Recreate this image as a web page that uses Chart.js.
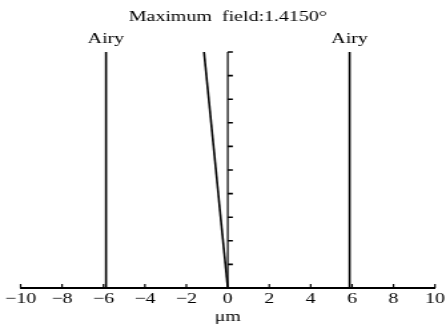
<!DOCTYPE html>
<html>
<head>
<meta charset="utf-8">
<script src="https://cdn.jsdelivr.net/npm/chart.js@4/dist/chart.umd.min.js"></script>
<style>
  html, body { margin: 0; padding: 0; background: #fff; overflow: hidden; }
  /* the reference type is wide, so the chart is drawn narrow and stretched sideways */
  #wrap { width: 335px; height: 324px; transform: scale(1.3313, 1); transform-origin: 0 0; }
  #c { display: block; }
</style>
</head>
<body>
<div id="wrap"><canvas id="c" width="335" height="324"></canvas></div>
<script>
// data
const chartTitle = 'Maximum  field:1.4150°';
const airyLabel = 'Airy';
const airyRadius = 5.88;          // μm, both sides
const fieldMax = 10;              // field axis, 10 divisions
const spotLine = [{ x: 0, y: 0 }, { x: -1.15, y: 10 }];
const xMin = -10, xMax = 10, xStep = 2;

const serif = "'Liberation Serif', 'DejaVu Serif', serif";
const ink = '#000';

// Airy labels, the field axis at x=0 with its ticks, and the x ticks pointing up
const extrasPlugin = {
    id: 'extras',
    afterDatasetsDraw(chart) {
        const ctx = chart.ctx;
        const xs = chart.scales.x, ys = chart.scales.y;
        const area = chart.chartArea;
        ctx.save();
        ctx.strokeStyle = ink;

        const x0 = xs.getPixelForValue(0);
        ctx.lineWidth = 1.2;
        ctx.beginPath();
        ctx.moveTo(x0, ys.getPixelForValue(0));
        ctx.lineTo(x0, ys.getPixelForValue(fieldMax));
        xs.ticks.forEach(t => {
            const x = xs.getPixelForValue(t.value);
            ctx.moveTo(x, area.bottom);
            ctx.lineTo(x, area.bottom - 4);
        });
        ctx.stroke();

        ctx.lineWidth = 1.6;
        ctx.beginPath();
        for (let v = 0; v <= fieldMax; v++) {
            const y = ys.getPixelForValue(v);
            ctx.moveTo(x0, y);
            ctx.lineTo(x0 + 3.8, y);
        }
        ctx.stroke();

        ctx.fillStyle = ink;
        ctx.font = '15px ' + serif;
        ctx.textAlign = 'center';
        ctx.textBaseline = 'middle';
        [-airyRadius, airyRadius].forEach(v => {
            ctx.fillText(airyLabel, xs.getPixelForValue(v), area.top - 13);
        });
        ctx.restore();
    }
};

const lineStyle = { showLine: true, borderColor: ink, borderWidth: 1.6, pointRadius: 0 };

new Chart(document.getElementById('c'), {
    type: 'scatter',
    data: {
        datasets: [
            { ...lineStyle, data: spotLine },
            { ...lineStyle, data: [{ x: -airyRadius, y: 0 }, { x: -airyRadius, y: fieldMax }] },
            { ...lineStyle, data: [{ x: airyRadius, y: 0 }, { x: airyRadius, y: fieldMax }] }
        ]
    },
    options: {
        responsive: false,
        animation: false,
        layout: { padding: { left: 15.5, right: 8.3, top: 0, bottom: 0 } },
        plugins: {
            legend: { display: false },
            tooltip: { enabled: false },
            title: {
                display: true,
                text: chartTitle,
                color: ink,
                font: { family: serif, size: 15, weight: 'normal' },
                padding: { top: 8, bottom: 26 }
            }
        },
        scales: {
            x: {
                type: 'linear',
                min: xMin, max: xMax,
                afterFit: s => { s.paddingLeft = 0; s.paddingRight = 0; },
                ticks: {
                    stepSize: xStep,
                    color: ink,
                    padding: 2,
                    maxRotation: 0,
                    font: { family: serif, size: 15 },
                    callback: v => String(v).replace('-', '\u2212')
                },
                grid: { display: false, drawTicks: false },
                border: { display: true, color: ink, width: 2 },
                title: {
                    display: true,
                    text: 'μm',
                    color: ink,
                    font: { family: serif, size: 15 },
                    padding: { top: -2, bottom: -2 }
                }
            },
            y: {
                type: 'linear',
                min: 0, max: fieldMax,
                display: false
            }
        }
    },
    plugins: [extrasPlugin]
});
</script>
</body>
</html>
